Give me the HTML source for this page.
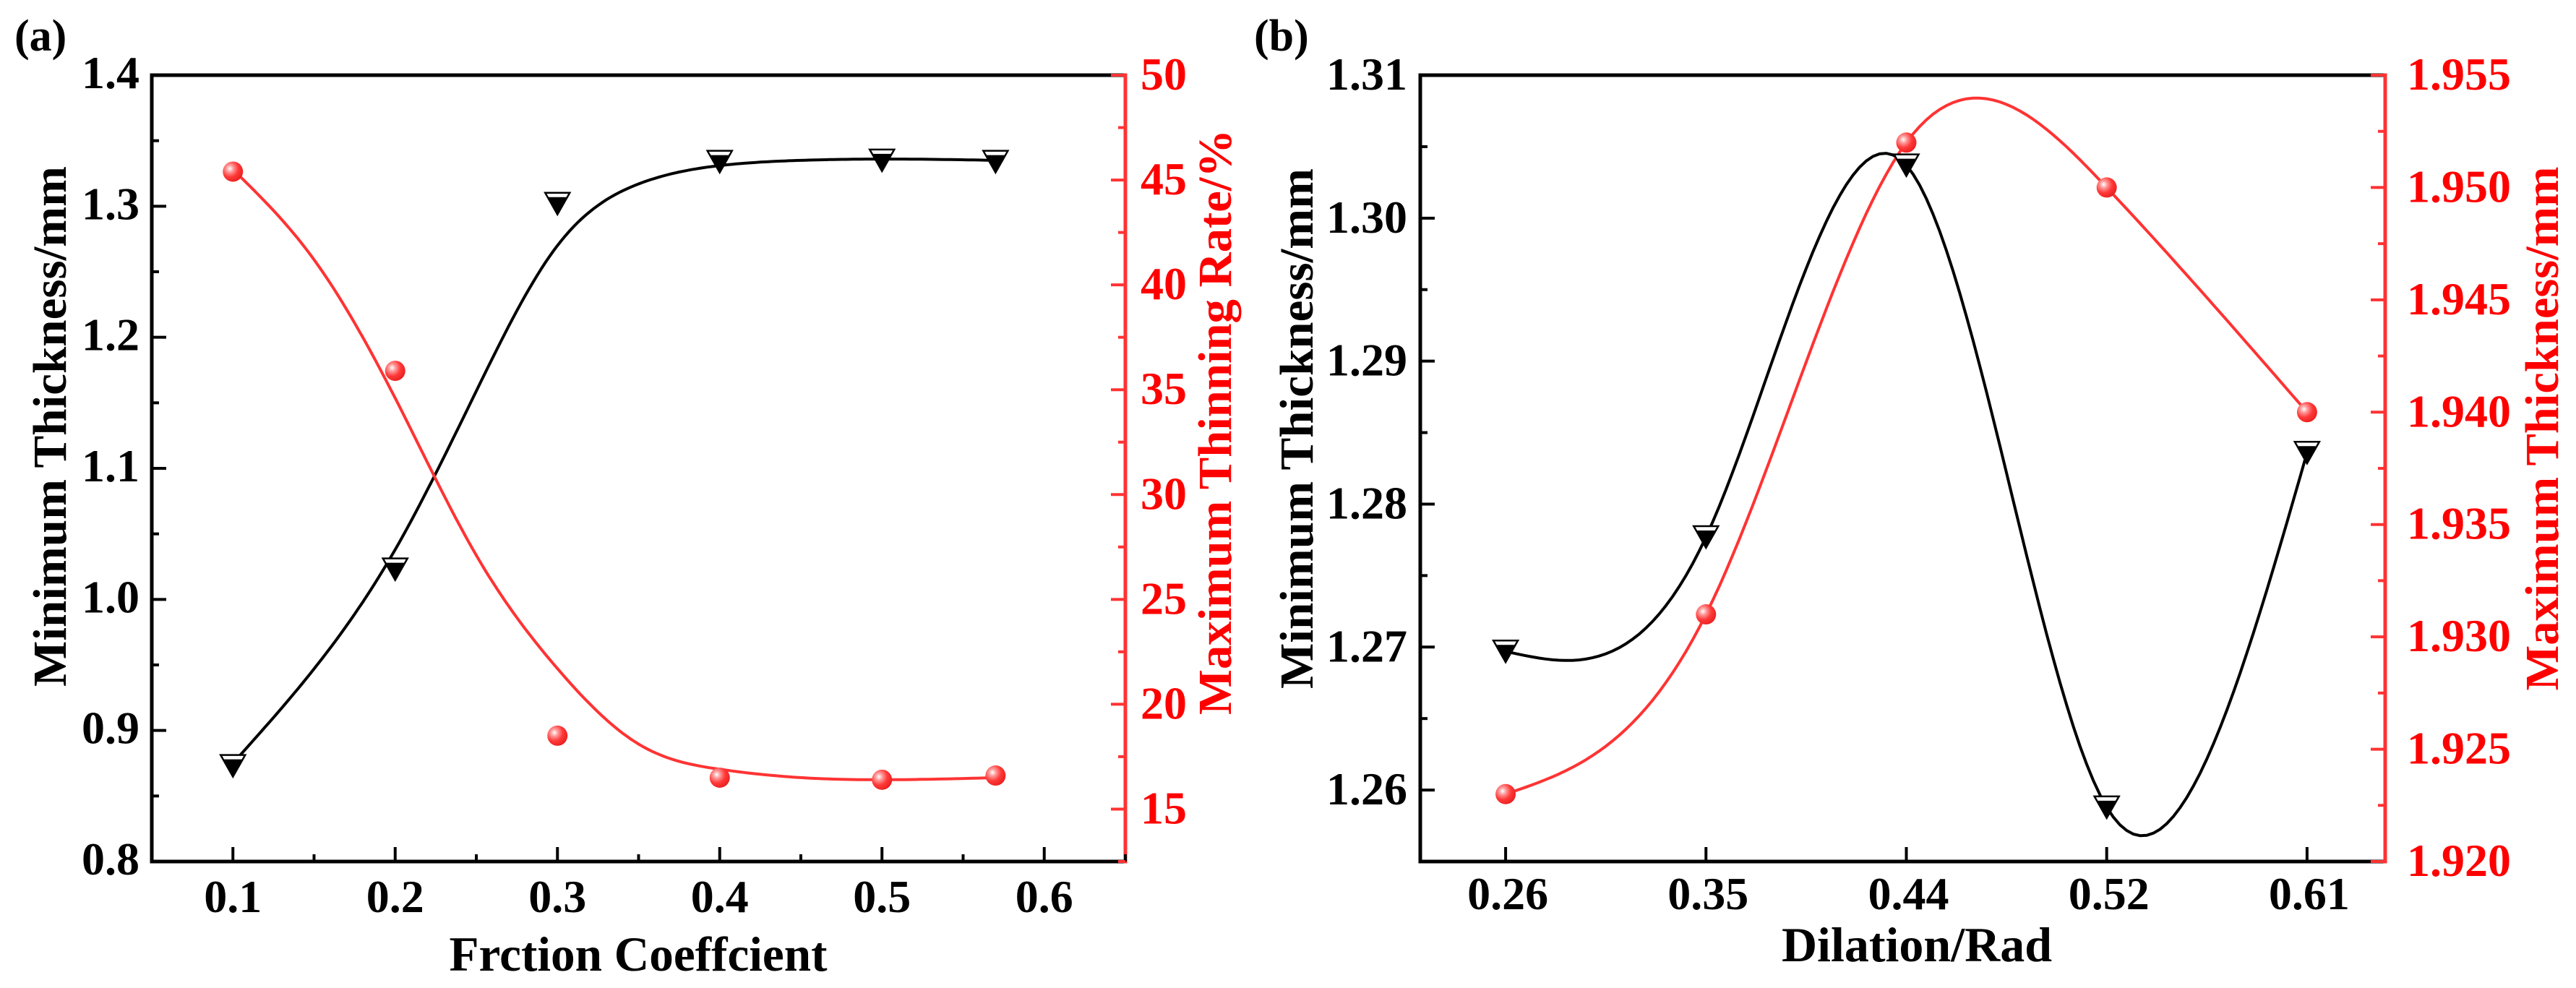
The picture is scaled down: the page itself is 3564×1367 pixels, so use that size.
<!DOCTYPE html>
<html><head><meta charset="utf-8">
<style>
html,body{margin:0;padding:0;background:#fff;}
svg{display:block;}
text{font-family:"Liberation Serif",serif;font-weight:bold;}
</style></head>
<body>
<svg id="chart" width="3564" height="1367" viewBox="0 0 3564 1367" xmlns="http://www.w3.org/2000/svg">
<defs>
<radialGradient id="ball" cx="0.35" cy="0.35" r="0.7">
<stop offset="0" stop-color="#ffffff"/><stop offset="0.25" stop-color="#ff9a9a"/><stop offset="0.6" stop-color="#ff3838"/><stop offset="1" stop-color="#e82020"/>
</radialGradient>
</defs>
<g id="pa"></g>
<g id="pb"></g>
</svg>
<script>
// Panel A data
const aX = [0.1, 0.2, 0.3, 0.4, 0.5, 0.57];
const aMinThick = [0.873, 1.023, 1.302, 1.334, 1.335, 1.334];
const aThinRate = [45.4, 35.9, 18.5, 16.5, 16.4, 16.6];
const aFitX = [0.1, 0.15, 0.2, 0.25, 0.3, 0.35, 0.4, 0.45, 0.5, 0.57];
const aFitMin = [0.875, 0.947, 1.038, 1.159, 1.27, 1.317, 1.331, 1.335, 1.336, 1.335];
const aFitRate = [45.5, 41.2, 34.6, 27.1, 21.7, 18.1, 16.9, 16.5, 16.4, 16.5];
const aXTicks = [0.1, 0.2, 0.3, 0.4, 0.5, 0.6];
const aYTicks = [0.8, 0.9, 1.0, 1.1, 1.2, 1.3, 1.4];
const aY2Ticks = [15, 20, 25, 30, 35, 40, 45, 50];
// Panel B data
const bCats = ["0.26", "0.35", "0.44", "0.52", "0.61"];
const bMinThick = [1.2697, 1.2777, 1.3037, 1.2588, 1.2836];
const bMaxThick = [1.923, 1.931, 1.952, 1.950, 1.940];
const bYTicks = [1.26, 1.27, 1.28, 1.29, 1.30, 1.31];
const bY2Ticks = [1.920, 1.925, 1.930, 1.935, 1.940, 1.945, 1.950, 1.955];

const NS = "http://www.w3.org/2000/svg";
function mk(parent, tag, attrs, txt){
  const e = document.createElementNS(NS, tag);
  for (const k in attrs) e.setAttribute(k, attrs[k]);
  if (txt !== undefined) e.textContent = txt;
  parent.appendChild(e);
  return e;
}
function spline(xs, ys, n){
  const m = xs.length, h=[], al=[0], l=[1], mu=[0], z=[0], c=new Array(m).fill(0), b=[], d=[];
  for (let i=0;i<m-1;i++) h.push(xs[i+1]-xs[i]);
  for (let i=1;i<m-1;i++) al.push(3/h[i]*(ys[i+1]-ys[i])-3/h[i-1]*(ys[i]-ys[i-1]));
  for (let i=1;i<m-1;i++){ l[i]=2*(xs[i+1]-xs[i-1])-h[i-1]*mu[i-1]; mu[i]=h[i]/l[i]; z[i]=(al[i]-h[i-1]*z[i-1])/l[i]; }
  for (let j=m-2;j>=0;j--){ c[j]=(j<m-1&&j>0? z[j]-mu[j]*c[j+1] : (j===0?0:0)); if(j>0) c[j]=z[j]-mu[j]*c[j+1]; b[j]=(ys[j+1]-ys[j])/h[j]-h[j]*(c[j+1]+2*c[j])/3; d[j]=(c[j+1]-c[j])/(3*h[j]); }
  const out=[];
  for (let j=0;j<m-1;j++) for (let k=0;k<n;k++){ const t=h[j]*k/n; out.push([xs[j]+t, ys[j]+b[j]*t+c[j]*t*t+d[j]*t*t*t]); }
  out.push([xs[m-1], ys[m-1]]);
  return out;
}
const RED = "#ff3333";
function tri(g, x, y, name){
  const t = mk(g,"g",{});
  
  
  mk(t,"polygon",{points:`${x-17},${y-15} ${x+17},${y-15} ${x},${y+15}`,fill:"#fff",stroke:"#000","stroke-width":2.5});
  mk(t,"polygon",{points:`${x-13},${y-9} ${x+13},${y-9} ${x},${y+15}`,fill:"#000"});
}
function ball(g, x, y, name){
  const c = mk(g,"circle",{cx:x,cy:y,r:14,fill:"url(#ball)"});
  
  
}
function frame(g, L, R, T, B){
  mk(g,"line",{x1:L,y1:T,x2:R,y2:T,stroke:"#000","stroke-width":5});
  mk(g,"line",{x1:L,y1:B,x2:R,y2:B,stroke:"#000","stroke-width":5});
  const la = mk(g,"line",{x1:L,y1:T-2.5,x2:L,y2:B+2.5,stroke:"#000","stroke-width":5});
   
  const ra = mk(g,"line",{x1:R,y1:T-2.5,x2:R,y2:B+2.5,stroke:RED,"stroke-width":5});
   
}

// ---------- Panel A ----------
(function(){
  const g = document.getElementById('pa');
  const L=210, R=1557, T=104, B=1192;
  const x0=0.05, x1=0.65, y0=0.8, y1=1.4, r0=12.5, r1=50;
  const sx = v => L+(v-x0)/(x1-x0)*(R-L);
  const sy = v => B-(v-y0)/(y1-y0)*(B-T);
  const sr = v => B-(v-r0)/(r1-r0)*(B-T);
  frame(g,L,R,T,B);
  for (let v=0.1; v<=0.651; v+=0.05){
    const major = Math.abs(v*10-Math.round(v*10))<1e-6;
    mk(g,"line",{x1:sx(v),y1:B,x2:sx(v),y2:B-(major?20:10),stroke:"#000","stroke-width":4});
  }
  aXTicks.forEach(v=>{ const t=mk(g,"text",{x:sx(v),y:1262,"font-size":64,"text-anchor":"middle"},v.toFixed(1));   });
  for (let v=0.8; v<=1.4001; v+=0.05){
    const major = Math.abs(v*10-Math.round(v*10))<1e-6;
    mk(g,"line",{x1:L,y1:sy(v),x2:L+(major?20:10),y2:sy(v),stroke:"#000","stroke-width":4});
  }
  aYTicks.forEach(v=>{ const t=mk(g,"text",{x:193,y:sy(v)+18,"font-size":64,"text-anchor":"end"},v.toFixed(1));   });
  for (let v=12.5; v<=50.001; v+=2.5){
    const major = Math.abs(v/5-Math.round(v/5))<1e-6;
    mk(g,"line",{x1:R,y1:sr(v),x2:R-(major?20:10),y2:sr(v),stroke:RED,"stroke-width":4});
  }
  aY2Ticks.forEach(v=>{ const t=mk(g,"text",{x:1578,y:sr(v)+20,"font-size":64,fill:"#ff0000"},String(v));   });
  let t;
  t=mk(g,"text",{x:883,y:1343,"font-size":68,"text-anchor":"middle",textLength:523,lengthAdjust:"spacingAndGlyphs"},"Frction Coeffcient");  
  t=mk(g,"text",{x:0,y:0,"font-size":66,"text-anchor":"middle",transform:"translate(91,590) rotate(-90)",textLength:720,lengthAdjust:"spacingAndGlyphs"},"Minimum Thickness/mm");  
  t=mk(g,"text",{x:0,y:0,"font-size":66,fill:"#ff0000","text-anchor":"middle",transform:"translate(1703,584) rotate(-90)",textLength:810,lengthAdjust:"spacingAndGlyphs"},"Maximum Thinning Rate/%");  
  t=mk(g,"text",{x:20,y:70,"font-size":62},"(a)");  
  const pm = spline(aFitX,aFitMin,20).map(p=>`${sx(p[0]).toFixed(1)},${sy(p[1]).toFixed(1)}`).join(' ');
  t=mk(g,"polyline",{points:pm,fill:"none",stroke:"#000","stroke-width":4});  
  const pr = spline(aFitX,aFitRate,20).map(p=>`${sx(p[0]).toFixed(1)},${sr(p[1]).toFixed(1)}`).join(' ');
  t=mk(g,"polyline",{points:pr,fill:"none",stroke:RED,"stroke-width":4});  
  aX.forEach((v,i)=>{ tri(g,sx(v),sy(aMinThick[i]),'min-thickness-point'); ball(g,sx(v),sr(aThinRate[i]),'thinning-rate-point'); });
})();

// ---------- Panel B ----------
(function(){
  const g = document.getElementById('pb');
  const L=1965, R=3300, T=104, B=1192;
  const i0=-0.426, i1=4.39, y0=1.255, y1=1.31, r0=1.920, r1=1.955;
  const sx = v => L+(v-i0)/(i1-i0)*(R-L);
  const sy = v => B-(v-y0)/(y1-y0)*(B-T);
  const sr = v => B-(v-r0)/(r1-r0)*(B-T);
  frame(g,L,R,T,B);
  bCats.forEach((c,i)=>{
    mk(g,"line",{x1:sx(i),y1:B,x2:sx(i),y2:B-20,stroke:"#000","stroke-width":4});
    const t=mk(g,"text",{x:sx(i)+3,y:1258,"font-size":64,"text-anchor":"middle"},c);  
  });
  for (let v=1.255; v<=1.3101; v+=0.005){
    const major = Math.abs(v*100-Math.round(v*100))<1e-6;
    mk(g,"line",{x1:L,y1:sy(v),x2:L+(major?20:10),y2:sy(v),stroke:"#000","stroke-width":4});
  }
  bYTicks.forEach(v=>{ const t=mk(g,"text",{x:1947,y:sy(v)+20,"font-size":64,"text-anchor":"end"},v.toFixed(2));   });
  for (let v=1.920; v<=1.95501; v+=0.0025){
    const major = Math.abs(v*200-Math.round(v*200))<1e-6;
    mk(g,"line",{x1:R,y1:sr(v),x2:R-(major?20:10),y2:sr(v),stroke:RED,"stroke-width":4});
  }
  bY2Ticks.forEach(v=>{ const t=mk(g,"text",{x:3330,y:sr(v)+20,"font-size":64,fill:"#ff0000"},v.toFixed(3));   });
  let t;
  t=mk(g,"text",{x:2652,y:1330,"font-size":68,"text-anchor":"middle"},"Dilation/Rad");  
  t=mk(g,"text",{x:0,y:0,"font-size":66,"text-anchor":"middle",transform:"translate(1816,593) rotate(-90)",textLength:720,lengthAdjust:"spacingAndGlyphs"},"Minimum Thickness/mm");  
  t=mk(g,"text",{x:0,y:0,"font-size":66,fill:"#ff0000","text-anchor":"middle",transform:"translate(3539,593) rotate(-90)",textLength:725,lengthAdjust:"spacingAndGlyphs"},"Maximum Thickness/mm");  
  t=mk(g,"text",{x:1735,y:70,"font-size":62},"(b)");  
  const idx = bCats.map((c,i)=>i);
  const pm = spline(idx,bMinThick,30).map(p=>`${sx(p[0]).toFixed(1)},${sy(p[1]).toFixed(1)}`).join(' ');
  t=mk(g,"polyline",{points:pm,fill:"none",stroke:"#000","stroke-width":4});  
  const pr = spline(idx,bMaxThick,30).map(p=>`${sx(p[0]).toFixed(1)},${sr(p[1]).toFixed(1)}`).join(' ');
  t=mk(g,"polyline",{points:pr,fill:"none",stroke:RED,"stroke-width":4});  
  idx.forEach(i=>{ tri(g,sx(i),sy(bMinThick[i]),'min-thickness-point'); ball(g,sx(i),sr(bMaxThick[i]),'max-thickness-point'); });
})();
</script>
</body></html>
